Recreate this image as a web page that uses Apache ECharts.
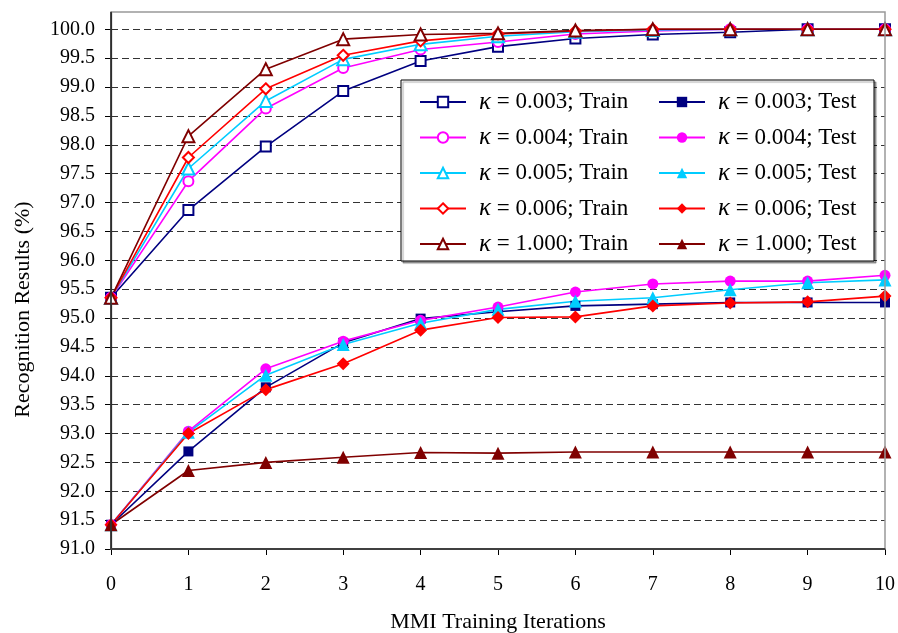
<!DOCTYPE html>
<html>
<head>
<meta charset="utf-8">
<script src="https://cdn.jsdelivr.net/npm/echarts@6/dist/echarts.min.js"></script>
<style>html,body{margin:0;padding:0;background:#fff;}#c{width:898px;height:633px;}</style>
</head>
<body>
<div id="c"></div>
<script>
var iterations = [0, 1, 2, 3, 4, 5, 6, 7, 8, 9, 10];
var yTicks = [91.0, 91.5, 92.0, 92.5, 93.0, 93.5, 94.0, 94.5, 95.0, 95.5, 96.0, 96.5, 97.0, 97.5, 98.0, 98.5, 99.0, 99.5, 100.0];

var kappas = ['0.003', '0.004', '0.005', '0.006', '1.000'];
var train003 = [95.35, 96.87, 97.97, 98.93, 99.45, 99.70, 99.84, 99.91, 99.95, 100, 100];
var train004 = [95.35, 97.37, 98.63, 99.33, 99.65, 99.78, 99.92, 99.97, 100, 100, 100];
var train005 = [95.35, 97.59, 98.76, 99.48, 99.74, 99.88, 99.96, 99.99, 100, 100, 100];
var train006 = [95.35, 97.78, 98.97, 99.55, 99.80, 99.92, 99.97, 100, 100, 100, 100];
var train1000 = [95.35, 98.15, 99.31, 99.83, 99.91, 99.93, 99.98, 100, 100, 100, 100];

var test003 = [91.42, 92.69, 93.80, 94.57, 94.99, 95.11, 95.21, 95.24, 95.27, 95.27, 95.27];
var test004 = [91.42, 93.04, 94.12, 94.60, 94.96, 95.19, 95.45, 95.59, 95.64, 95.64, 95.74];
var test005 = [91.42, 93.02, 94.01, 94.54, 94.91, 95.15, 95.29, 95.35, 95.49, 95.61, 95.66];
var test006 = [91.42, 93.00, 93.76, 94.21, 94.79, 95.01, 95.02, 95.21, 95.26, 95.28, 95.38];
var test1000 = [91.42, 92.36, 92.50, 92.59, 92.67, 92.66, 92.68, 92.68, 92.68, 92.68, 92.68];

var trainData = [train003, train004, train005, train006, train1000];
var testData = [test003, test004, test005, test006, test1000];
var colors = ['#000080', '#FF00FF', '#00CCFF', '#FF0000', '#800000'];
var trainSymbols = ['emptyRect', 'emptyCircle', 'emptyTriangle', 'emptyDiamond', 'emptyTriangle'];
var testSymbols = ['rect', 'circle', 'triangle', 'diamond', 'triangle'];
var trainSizes = [10, 10, 12, 11, 12];
var testSizes = [10, 11, 13, 13, 13];

function pairs(arr) { return iterations.map(function (x, i) { return [x, arr[i]]; }); }

var series = [];
var trainNames = [], testNames = [];
for (var i = 0; i < kappas.length; i++) {
  var tn = 'κ = ' + kappas[i] + '; Train';
  trainNames.push(tn);
  series.push({
    name: tn, type: 'line', data: pairs(trainData[i]),
    symbol: trainSymbols[i], symbolSize: trainSizes[i],
    lineStyle: { color: colors[i], width: 1.6 },
    itemStyle: { color: colors[i], borderColor: colors[i], borderWidth: 1.5 },
    emphasis: { disabled: true }, animation: false, z: 2
  });
}
for (var j = 0; j < kappas.length; j++) {
  var sn = 'κ = ' + kappas[j] + '; Test';
  testNames.push(sn);
  series.push({
    name: sn, type: 'line', data: pairs(testData[j]),
    symbol: testSymbols[j], symbolSize: testSizes[j],
    lineStyle: { color: colors[j], width: 1.6 },
    itemStyle: { color: colors[j] },
    emphasis: { disabled: true }, animation: false, z: 3
  });
}

var serif = '"Liberation Serif", "Times New Roman", serif';
var legendText = {
  fontFamily: serif, fontSize: 23, color: '#000',
  rich: {
    k: { fontFamily: serif, fontStyle: 'italic', fontSize: 25, color: '#000', padding: [0, 0, 0, 8] },
    t: { fontFamily: serif, fontSize: 23, color: '#000' }
  }
};
function fmt(name) { return '{k|κ}{t|' + name.slice(1) + '}'; }

var chart = echarts.init(document.getElementById('c'), null, { renderer: 'canvas' });
chart.setOption({
  backgroundColor: '#fff',
  animation: false,
  grid: { left: 111, right: 13, top: 12, bottom: 84, containLabel: false, outerBoundsMode: 'none' },
  xAxis: {
    type: 'value', min: 0, max: 10, interval: 1,
    name: 'MMI Training Iterations', nameLocation: 'middle', nameGap: 62,
    nameTextStyle: { fontFamily: serif, fontSize: 22, color: '#000' },
    axisLine: { show: true, onZero: false, lineStyle: { color: '#404040', width: 2 } },
    axisTick: { show: true, inside: false, length: 6, lineStyle: { color: '#000', width: 1 } },
    axisLabel: { fontFamily: serif, fontSize: 20, color: '#000', margin: 26 },
    splitLine: { show: false }
  },
  yAxis: {
    type: 'value', min: 91, max: 100.3, interval: 0.5,
    name: 'Recognition Results (%)', nameLocation: 'middle', nameGap: 77,
    nameTextStyle: { fontFamily: serif, fontSize: 22, color: '#000', padding: [0, 58, 0, 0] },
    axisLine: { show: true, lineStyle: { color: '#000', width: 1.2 } },
    axisTick: { show: true, inside: false, length: 6, lineStyle: { color: '#000' }, customValues: yTicks },
    axisLabel: {
      fontFamily: serif, fontSize: 20, color: '#000', margin: 16, customValues: yTicks,
      formatter: function (v) { return v.toFixed(1); }
    },
    splitLine: { show: true, lineStyle: { color: '#333', width: 1, type: [7, 4] } }
  },
  legend: [
    {
      data: trainNames, orient: 'vertical', left: 419, top: 89.5,
      itemWidth: 46, itemHeight: 13, itemGap: 10.5, padding: 0,
      formatter: fmt, textStyle: legendText, selectedMode: false, z: 10
    },
    {
      data: testNames, orient: 'vertical', left: 658, top: 89.5,
      itemWidth: 46, itemHeight: 13, itemGap: 10.5, padding: 0,
      formatter: fmt, textStyle: legendText, selectedMode: false, z: 10
    }
  ],
  graphic: [
    {
      type: 'rect', z: 100, silent: true,
      shape: { x: 111, y: 12, width: 774, height: 537 },
      style: { fill: null, stroke: '#999', lineWidth: 1.5 }
    },
    {
      type: 'line', z: 101, silent: true,
      shape: { x1: 111, y1: 12, x2: 111, y2: 549 },
      style: { stroke: '#000', lineWidth: 1.2 }
    },
    {
      type: 'line', z: 101, silent: true,
      shape: { x1: 110, y1: 549, x2: 885, y2: 549 },
      style: { stroke: '#404040', lineWidth: 2 }
    },
    {
      type: 'rect', z: 5, silent: true,
      shape: { x: 401, y: 80, width: 473, height: 181 },
      style: { fill: '#fff', stroke: '#000', lineWidth: 1, shadowColor: 'rgba(0,0,0,0.35)', shadowOffsetX: 2, shadowOffsetY: 2, shadowBlur: 1 }
    }
  ],
  series: series
});
</script>
</body>
</html>
